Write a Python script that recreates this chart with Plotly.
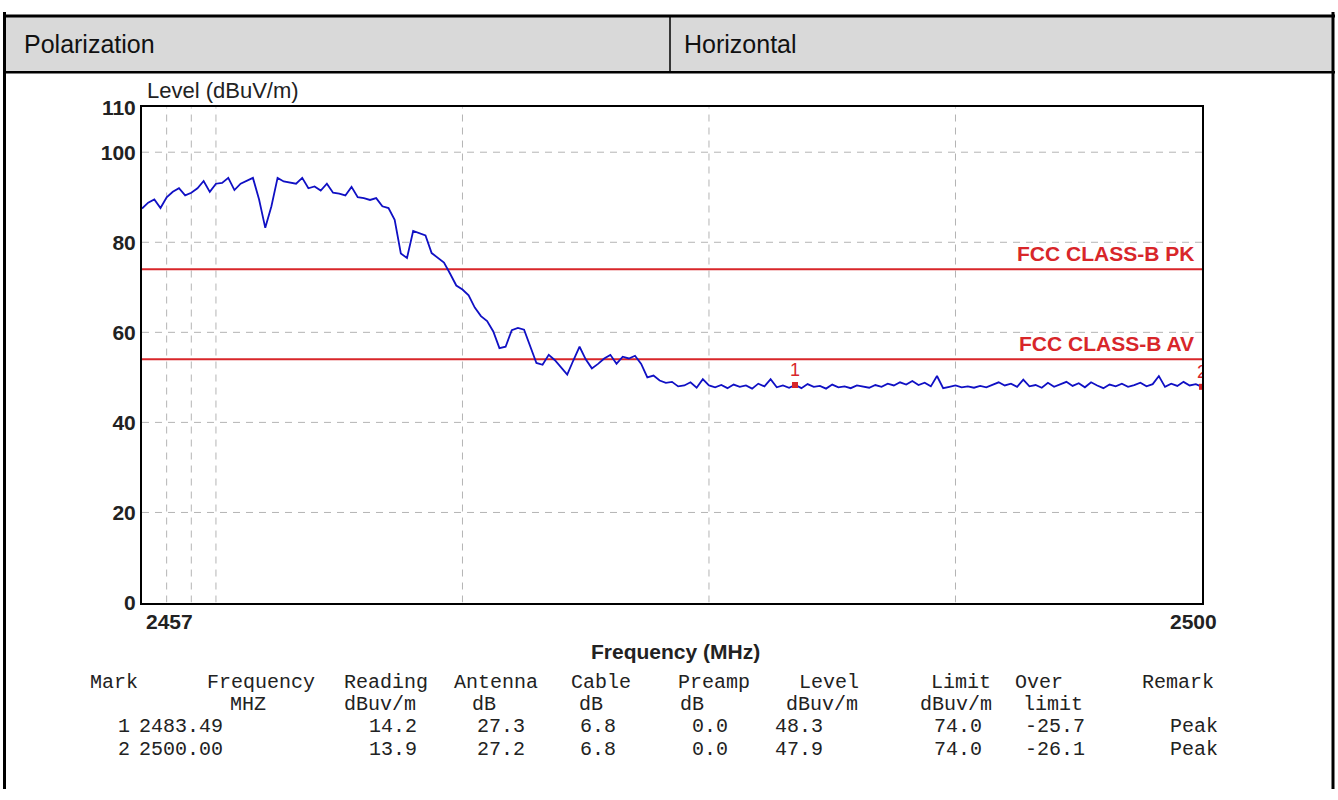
import numpy as np
import plotly.graph_objects as go

# ---------------- data ----------------
freq_start = 2457.0
freq_stop = 2500.0
freq_step = 0.25

level = [
    87.5, 88.8, 89.5, 87.6, 90.0, 91.2, 92.0, 90.4, 91.0, 92.0,
    93.6, 91.2, 93.0, 93.2, 94.3, 91.6, 93.0, 93.6, 94.3, 89.5,
    83.2, 88.0, 94.3, 93.5, 93.2, 93.0, 94.3, 92.0, 92.4, 91.5,
    93.0, 91.0, 90.8, 90.4, 92.3, 90.0, 89.8, 89.4, 89.8, 88.0,
    87.6, 85.0, 77.5, 76.5, 82.5, 82.0, 81.5, 77.6, 76.5, 75.5,
    73.0, 70.4, 69.5, 68.2, 65.5, 63.6, 62.5, 60.2, 56.5, 56.8,
    60.5, 61.0, 60.6, 57.0, 53.2, 52.8, 55.0, 53.8, 52.2, 50.6,
    53.8, 56.8, 54.0, 52.0, 53.0, 54.2, 55.0, 53.0, 54.6, 54.2,
    54.8, 53.0, 50.0, 50.4, 49.3, 48.8, 49.0, 48.0, 48.2, 48.9,
    47.7, 49.6, 48.2, 47.8, 48.3, 47.6, 48.4, 47.9, 48.2, 47.5,
    48.6, 48.0, 49.6, 47.8, 48.2, 47.7, 48.3, 47.6, 48.5, 47.9,
    48.1, 47.5, 48.4, 47.8, 48.0, 47.6, 48.2, 47.9, 47.7, 48.3,
    47.9, 48.6, 48.2, 48.9, 48.4, 49.2, 48.3, 48.8, 48.0, 50.3,
    47.6, 47.9, 48.2, 47.8, 48.0, 47.7, 48.1, 47.8, 48.4, 48.9,
    48.2, 48.6, 47.9, 49.5, 48.0, 48.3, 47.7, 48.8, 47.9, 48.5,
    49.0, 48.1, 48.7, 47.8, 48.9, 48.2, 47.6, 48.4, 48.0, 48.6,
    47.9, 48.3, 48.8, 48.0, 48.5, 50.3, 47.9, 48.6, 48.1, 49.0,
    48.2, 48.5, 47.9,
]
freq = np.arange(len(level)) * freq_step + freq_start

limit_pk = 74.0
limit_av = 54.0
limit_pk_label = "FCC CLASS-B PK"
limit_av_label = "FCC CLASS-B AV"

mark_ids = ["1", "2"]
mark_freq = [2483.49, 2500.00]
mark_level = [48.3, 47.9]

y_tickvals = [0, 20, 40, 60, 80, 100, 110]
x_gridvals = [2458, 2459, 2460, 2470, 2480, 2490]
y_gridvals = [20, 40, 60, 80, 100]
x_ticklabels = ["2457", "2500"]

header_row1 = ["Mark", "Frequency", "Reading", "Antenna", "Cable", "Preamp",
               "Level", "Limit", "Over", "Remark"]
header_row2 = ["", "MHZ", "dBuv/m", "dB", "dB", "dB", "dBuv/m", "dBuv/m", "limit", ""]
row_1 = ["1", "2483.49", "14.2", "27.3", "6.8", "0.0", "48.3", "74.0", "-25.7", "Peak"]
row_2 = ["2", "2500.00", "13.9", "27.2", "6.8", "0.0", "47.9", "74.0", "-26.1", "Peak"]

polarization_label = "Polarization"
polarization_value = "Horizontal"

# ---------------- layout constants ----------------
W, H = 1338, 800
PL, PR, PT, PB = 142, 1202, 98, 608


def px(x):
    return x / W


def py(y):
    return 1 - y / H


SANS = "Arial, Liberation Sans, sans-serif"
MONO = "Courier New, Liberation Mono, monospace"
RED = "#d8262a"
BLUE = "#1010c4"

fig = go.Figure()

# limit lines
fig.add_trace(go.Scatter(x=[freq_start, freq_stop], y=[limit_pk, limit_pk], mode="lines",
                         line=dict(color=RED, width=2), hoverinfo="skip", showlegend=False))
fig.add_trace(go.Scatter(x=[freq_start, freq_stop], y=[limit_av, limit_av], mode="lines",
                         line=dict(color=RED, width=2), hoverinfo="skip", showlegend=False))

# measured trace
fig.add_trace(go.Scatter(x=freq, y=level, mode="lines",
                         line=dict(color=BLUE, width=1.8), showlegend=False))

# markers
fig.add_trace(go.Scatter(x=mark_freq, y=mark_level, mode="markers+text", text=mark_ids,
                         textposition="top center",
                         textfont=dict(family=SANS, size=18, color=RED),
                         marker=dict(symbol="square", size=6, color=RED),
                         cliponaxis=True, showlegend=False))

grid_style = dict(color="#b4b4b4", width=1, dash="7px,6px")
shapes = []
for gx in x_gridvals:
    shapes.append(dict(type="line", xref="x", yref="y", x0=gx, x1=gx, y0=0, y1=110,
                       line=grid_style, layer="below"))
for gy in y_gridvals:
    shapes.append(dict(type="line", xref="x", yref="y", x0=freq_start, x1=freq_stop, y0=gy, y1=gy,
                       line=grid_style, layer="below"))

# outer table frame
shapes += [
    dict(type="rect", xref="paper", yref="paper", x0=px(4), x1=px(1333), y0=py(62), y1=py(4),
         fillcolor="#d9d9d9", line=dict(width=0), layer="below"),
    dict(type="line", xref="paper", yref="paper", x0=px(3), x1=px(1335), y0=py(4), y1=py(4),
         line=dict(color="black", width=3)),
    dict(type="line", xref="paper", yref="paper", x0=px(3), x1=px(1335), y0=py(62), y1=py(62),
         line=dict(color="black", width=2.5)),
    dict(type="line", xref="paper", yref="paper", x0=px(4.5), x1=px(4.5), y0=py(0), y1=py(800),
         line=dict(color="black", width=3)),
    dict(type="line", xref="paper", yref="paper", x0=px(1333), x1=px(1333), y0=py(0), y1=py(800),
         line=dict(color="black", width=3)),
    dict(type="line", xref="paper", yref="paper", x0=px(670), x1=px(670), y0=py(4), y1=py(62),
         line=dict(color="black", width=1.5)),
]

annotations = [
    dict(text=polarization_label, x=px(22), y=py(33), xref="paper", yref="paper",
         xanchor="left", yanchor="middle", showarrow=False,
         font=dict(family=SANS, size=25, color="#111")),
    dict(text=polarization_value, x=px(682), y=py(33), xref="paper", yref="paper",
         xanchor="left", yanchor="middle", showarrow=False,
         font=dict(family=SANS, size=25, color="#111")),
    dict(text="Level (dBuV/m)", x=px(145), y=py(81), xref="paper", yref="paper",
         xanchor="left", yanchor="middle", showarrow=False,
         font=dict(family=SANS, size=22, color="#222")),
    dict(text="Frequency (MHz)", x=px(675), y=py(658), xref="paper", yref="paper",
         xanchor="center", yanchor="middle", showarrow=False,
         font=dict(family=SANS, size=21, color="#222", weight="bold")),
    dict(text=limit_pk_label, x=freq_stop, y=limit_pk, xref="x", yref="y",
         xanchor="right", yanchor="bottom", xshift=-6, yshift=2, showarrow=False,
         font=dict(family=SANS, size=21, color=RED, weight="bold")),
    dict(text=limit_av_label, x=freq_stop, y=limit_av, xref="x", yref="y",
         xanchor="right", yanchor="bottom", xshift=-6, yshift=2, showarrow=False,
         font=dict(family=SANS, size=21, color=RED, weight="bold")),
    dict(text=x_ticklabels[0], x=freq_start, y=py(628), xref="x", yref="paper",
         xanchor="left", yanchor="middle", xshift=2, showarrow=False,
         font=dict(family=SANS, size=21, color="#222", weight="bold")),
    dict(text=x_ticklabels[1], x=freq_stop, y=py(628), xref="x", yref="paper",
         xanchor="center", yanchor="middle", xshift=-9, showarrow=False,
         font=dict(family=SANS, size=21, color="#222", weight="bold")),
]

# measurement table
row_y = [690, 713, 736, 759]
col_left = {
    0: [88, 205, 342, 452, 569, 676, 797, 929, 1013, 1140],
    1: [None, 228, 342, 470, 577, 678, 784, 918, 1021, None],
    2: [116, 137, 367, 475, 578, 690, 773, 932, 1023, 1168],
    3: [116, 137, 367, 475, 578, 690, 773, 932, 1023, 1168],
}
for r, row in enumerate([header_row1, header_row2, row_1, row_2]):
    for c, txt in enumerate(row):
        if not txt:
            continue
        annotations.append(dict(text=txt, x=px(col_left[r][c]), y=py(row_y[r]),
                                xref="paper", yref="paper", xanchor="left", yanchor="middle",
                                showarrow=False,
                                font=dict(family=MONO, size=20, color="#222")))

fig.update_layout(
    width=W, height=H, autosize=False,
    margin=dict(l=0, r=0, t=0, b=0),
    paper_bgcolor="white", plot_bgcolor="white",
    shapes=shapes, annotations=annotations,
    xaxis=dict(domain=[px(PL), px(PR)], range=[freq_start, freq_stop],
               showgrid=False, zeroline=False, showticklabels=False, ticks="",
               showline=True, mirror=True, linecolor="black", linewidth=2),
    yaxis=dict(domain=[py(PB), py(PT)], range=[0, 110],
               tickvals=y_tickvals, showgrid=False, zeroline=False, ticks="",
               tickfont=dict(family=SANS, size=21, color="#222", weight="bold"),
               showline=True, mirror=True, linecolor="black", linewidth=2),
)

fig.write_html(
    "out.html", config={"displayModeBar": False},
    post_script=("document.body.style.margin='0';document.body.style.overflow='hidden';"))
